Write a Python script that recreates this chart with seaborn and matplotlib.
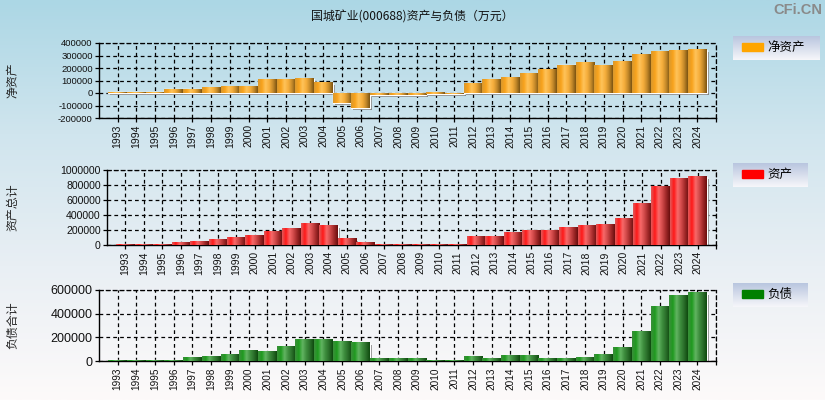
import numpy as np
import pandas as pd
import matplotlib
matplotlib.use('Agg')
import matplotlib.pyplot as plt
import matplotlib.patheffects as pe
from matplotlib.colors import LinearSegmentedColormap
import seaborn as sns

years = ['1993', '1994', '1995', '1996', '1997', '1998', '1999', '2000',
         '2001', '2002', '2003', '2004', '2005', '2006', '2007', '2008',
         '2009', '2010', '2011', '2012', '2013', '2014', '2015', '2016',
         '2017', '2018', '2019', '2020', '2021', '2022', '2023', '2024']
net_assets = [8000, 7000, 6000, 29000, 29000, 43000, 51000, 51000,
              107000, 107000, 115000, 83000, -80000, -120000, -16000, -16000,
              -15000, -11000, -8000, 75000, 107000, 123000, 155000, 187000,
              224000, 243000, 219000, 251000, 307000, 331000, 339000, 347000]
total_assets = [13000, 13000, 13000, 31000, 44000, 71000, 97000, 124000,
                177000, 217000, 283000, 257000, 84000, 31000, 6000, 5000,
                5000, 3000, 3000, 111000, 111000, 164000, 190000, 190000,
                230000, 257000, 270000, 350000, 549000, 774000, 881000, 907000]
liabilities = [8000, 8000, 8000, 8000, 28000, 37000, 54000, 87000,
               79000, 121000, 180000, 180000, 163000, 155000, 20000, 20000,
               20000, 8000, 8000, 37000, 20000, 45000, 45000, 20000,
               20000, 28000, 54000, 113000, 248000, 459000, 552000, 577000]

df = pd.DataFrame({'year': years, 'net': net_assets,
                   'assets': total_assets, 'liab': liabilities})

sns.set_style('white')
plt.rcParams['font.family'] = ['Liberation Sans', 'Noto Sans CJK SC', 'DejaVu Sans']
plt.rcParams['axes.unicode_minus'] = False

W, H = 825, 400
fig = plt.figure(figsize=(W / 100, H / 100), dpi=100)

# background gradient
bg = fig.add_axes([0, 0, 1, 1], zorder=-10)
bg_cmap = LinearSegmentedColormap.from_list('bg', ['#acd7e5', '#d0e5ee', '#e9eff4', '#fdfafa'])
bg.imshow(np.linspace(0, 1, 256)[:, None], cmap=bg_cmap, aspect='auto', extent=(0, 1, 0, 1))
bg.set_axis_off()


def px_axes(left, top, right, bottom):
    return fig.add_axes([left / W, 1 - bottom / H, (right - left) / W, (bottom - top) / H])


def draw_panel(ax, col, stops, base, yticks, ylim, ylabel, fs_y, fs_x):
    sns.barplot(data=df, x='year', y=col, color=base, width=1.0, saturation=1,
                ax=ax, zorder=2)
    cmap = LinearSegmentedColormap.from_list(col, stops)
    grad = cmap(np.linspace(0, 1, 64))[None, :, :]
    for p in ax.patches:
        x0, y0, w, h = p.get_x(), p.get_y(), p.get_width(), p.get_height()
        p.set_path_effects([pe.SimplePatchShadow(offset=(1.5, -1.5), shadow_rgbFace='#7a7a7a', alpha=0.9),
                            pe.Normal()])
        ax.imshow(grad, extent=(x0, x0 + w, min(y0, y0 + h), max(y0, y0 + h)),
                  aspect='auto', interpolation='bilinear', zorder=3)
    ax.set_facecolor('none')
    ax.set_xlim(-1, 32)
    ax.set_ylim(*ylim)
    ax.set_yticks(yticks)
    ax.set_yticklabels([str(v) for v in yticks], fontsize=fs_y)
    ax.set_xticks(list(range(len(years))) + [32])
    ax.set_xticklabels(years + [''], rotation=90, fontsize=fs_x)
    ax.set_xlabel('')
    ax.set_ylabel('')
    ax.set_axisbelow(True)
    ax.grid(True, color='black', linestyle=(0, (3, 2.5)), linewidth=0.9)
    ax.tick_params(axis='both', direction='out', length=3, width=0.9, color='black',
                   left=True, bottom=True, pad=1.5, labelcolor='#111111')
    for s in ['left', 'bottom']:
        ax.spines[s].set_color('black')
        ax.spines[s].set_linewidth(1.0)
    for s in ['top', 'right']:
        ax.spines[s].set_color('black')
        ax.spines[s].set_linestyle((0, (3, 2.5)))
        ax.spines[s].set_linewidth(0.9)
    pos = ax.get_position()
    fig.text(13 / W, pos.y0 + pos.height / 2, ylabel, rotation=90, ha='center', va='center',
             fontsize=8.6, family=['Noto Sans CJK SC'])


orange_stops = ['#d9992e', '#f8a21c', '#ffc35a', '#f6ae3c', '#c58a2a', '#7c5412']
red_stops = ['#e05a5a', '#ff1818', '#f86a6a', '#d24a4a', '#a02828', '#6a0e0e']
green_stops = ['#3a8e3a', '#1f9a1f', '#62b462', '#3e8e3e', '#2a6e2a', '#0f4a0f']

ax1 = px_axes(99, 43, 716, 118)
draw_panel(ax1, 'net', orange_stops, '#ffa500',
           [-200000, -100000, 0, 100000, 200000, 300000, 400000], (-200000, 400000),
           '净资产', 6.8, 7.5)
ax2 = px_axes(107, 170, 716, 245)
draw_panel(ax2, 'assets', red_stops, '#ff0000',
           [0, 200000, 400000, 600000, 800000, 1000000], (0, 1000000),
           '资产总计', 7.6, 7.5)
ax3 = px_axes(99, 290, 716, 361)
draw_panel(ax3, 'liab', green_stops, '#008000',
           [0, 200000, 400000, 600000], (0, 600000),
           '负债合计', 9, 7.2)

# legends
leg_cmap = LinearSegmentedColormap.from_list('leg', ['#b9c6df', '#f6f6fa'])
for (l, t, r, b), color, label in [((733, 36, 820, 60), '#ffa500', '净资产'),
                                   ((733, 163, 808, 187), '#ff0000', '资产'),
                                   ((733, 283, 808, 307), '#008000', '负债')]:
    lax = px_axes(l, t, r, b)
    lax.imshow(np.linspace(0, 1, 64)[:, None], cmap=leg_cmap, aspect='auto', extent=(0, 1, 0, 1))
    lax.set_xlim(0, 1)
    lax.set_ylim(0, 1)
    lax.set_axis_off()
    fig.add_artist(plt.Rectangle((742 / W, 1 - (t + 15) / H), 21 / W, 8 / H,
                                 transform=fig.transFigure, color=color, zorder=5))
    fig.text(767 / W, 1 - (t + 11.5) / H, label, fontsize=9, va='center', ha='left',
             family=['Noto Sans CJK SC'], color='black', zorder=6)

fig.text(412 / W, 1 - 17 / H, '国城矿业(000688)资产与负债（万元）', ha='center', va='center',
         fontsize=8.6, family=['Noto Sans CJK SC'], color='#111111')
fig.text(822 / W, 1 - 10 / H, 'CFi.CN', ha='right', va='center', fontsize=10.5,
         fontweight='bold', color='#8a8a8a', family=['Liberation Sans'])

fig.savefig('out.png', dpi=100)
